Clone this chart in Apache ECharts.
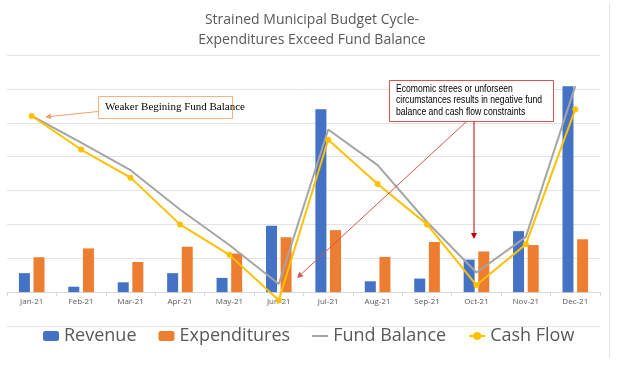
<!DOCTYPE html>
<html>
<head>
<meta charset="utf-8">
<script src="https://cdn.jsdelivr.net/npm/echarts@6/dist/echarts.min.js"></script>
<style>html,body{margin:0;padding:0;background:#fff}#c{width:628px;height:372px}</style>
</head>
<body>
<div id="c"></div>
<script>
const categories = ['Jan-21','Feb-21','Mar-21','Apr-21','May-21','Jun-21','Jul-21','Aug-21','Sep-21','Oct-21','Nov-21','Dec-21'];
const revenue      = [0.56, 0.16, 0.29, 0.56, 0.42, 1.96, 5.40, 0.32, 0.40, 0.96, 1.80, 6.08];
const expenditures = [1.03, 1.29, 0.89, 1.34, 1.14, 1.62, 1.83, 1.04, 1.48, 1.20, 1.39, 1.56];
const fundBalance  = [5.20, 4.41, 3.60, 2.44, 1.39, 0.24, 4.80, 3.75, 2.07, 0.58, 1.63, 6.08];
const cashFlow     = [5.20, 4.21, 3.38, 2.00, 1.10, -0.24, 4.50, 3.19, 2.00, 0.21, 1.41, 5.40];

function arrow(x1, y1, x2, y2, color) {
  const dx = x2 - x1, dy = y2 - y1, len = Math.sqrt(dx*dx + dy*dy);
  const ux = dx/len, uy = dy/len, nx = -uy, ny = ux, L = 6, W = 3;
  const bx = x2 - L*ux, by = y2 - L*uy;
  return [
    {type:'line', shape:{x1:x1, y1:y1, x2:bx, y2:by}, style:{stroke:color, lineWidth:1}, z:100},
    {type:'polygon', shape:{points:[[x2,y2],[bx+W*nx,by+W*ny],[bx-W*nx,by-W*ny]]}, style:{fill:color}, z:100}
  ];
}

const noteText = 'Ecomomic strees or unforseen\ncircumstances results in negative fund\nbalance and cash flow constraints';
const ctx = document.createElement('canvas').getContext('2d');
ctx.font = '11px "Liberation Sans"';
const noteScale = 146 / ctx.measureText('circumstances results in negative fund').width;

const gridTop = 55, gridBottom = 46, H = 372;
const unitPx = (H - gridTop - gridBottom) / 8;

const chart = echarts.init(document.getElementById('c'));
chart.setOption({
  animation: false,
  title: {
    text: 'Strained Municipal Budget Cycle-\nExpenditures Exceed Fund Balance',
    left: 307, top: 5, textAlign: 'center',
    textStyle: {fontFamily: 'Open Sans', fontSize: 14, fontWeight: 'normal', color: '#595959', lineHeight: 20}
  },
  grid: {left: 7, right: 28, top: gridTop, bottom: gridBottom, containLabel: false},
  legend: {
    top: 322, left: 38, itemGap: 22, itemWidth: 16, itemHeight: 10,
    textStyle: {fontFamily: 'Open Sans', fontSize: 18, color: '#595959'},
    data: ['Revenue','Expenditures',{name:'Fund Balance', icon:'path://M0,0 L16,0 L16,2 L0,2 Z'},'Cash Flow']
  },
  xAxis: {
    type: 'category', data: categories, offset: -unitPx,
    axisLine: {onZero: false, lineStyle: {color: '#D9D9D9'}},
    axisTick: {show: true, length: 4, lineStyle: {color: '#D9D9D9'}},
    axisLabel: {fontFamily: 'Open Sans', fontSize: 8, color: '#595959', margin: 6}
  },
  yAxis: {
    type: 'value', min: -1, max: 7, interval: 1,
    axisLabel: {show: false}, axisLine: {show: false}, axisTick: {show: false},
    splitLine: {lineStyle: {color: '#E3E3E3'}}
  },
  series: [
    {name: 'Revenue', type: 'bar', data: revenue, barWidth: 11, barGap: '33%', itemStyle: {color: '#4472C4'}},
    {name: 'Expenditures', type: 'bar', data: expenditures, barWidth: 11, itemStyle: {color: '#ED7D31'}},
    {name: 'Fund Balance', type: 'line', data: fundBalance, symbol: 'none', lineStyle: {color: '#A5A5A5', width: 2}, itemStyle: {color: '#A5A5A5'}},
    {name: 'Cash Flow', type: 'line', data: cashFlow, symbol: 'circle', symbolSize: 6, lineStyle: {color: '#FFC000', width: 2}, itemStyle: {color: '#FFC000'}}
  ],
  graphic: [
    {type:'line', shape:{x1:609.5, y1:4, x2:609.5, y2:358}, style:{stroke:'#E3E3E3', lineWidth:1}},
    {type:'rect', shape:{x:98.5, y:96.5, width:134, height:22}, style:{fill:'#fff', stroke:'#F4B183', lineWidth:1}, z:100},
    {type:'text', x:105, y:107.5, style:{text:'Weaker Begining Fund Balance', fontFamily:'Liberation Serif', fontSize:11, fill:'#000', verticalAlign:'middle'}, z:101},
    ...arrow(98, 111.5, 45, 117, '#F4A070'),
    {type:'rect', shape:{x:389.5, y:80.5, width:164, height:41}, style:{fill:'#fff', stroke:'#D9534F', lineWidth:1}, z:100},
    {type:'text', x:396, y:83, scaleX: noteScale, style:{text:noteText, fontFamily:'Liberation Sans', fontSize:11, lineHeight:11.5, fill:'#000'}, z:101},
    ...arrow(466, 122, 297, 278, '#D9534F'),
    ...arrow(474, 122, 474, 239, '#C00000')
  ]
});
</script>
</body>
</html>
